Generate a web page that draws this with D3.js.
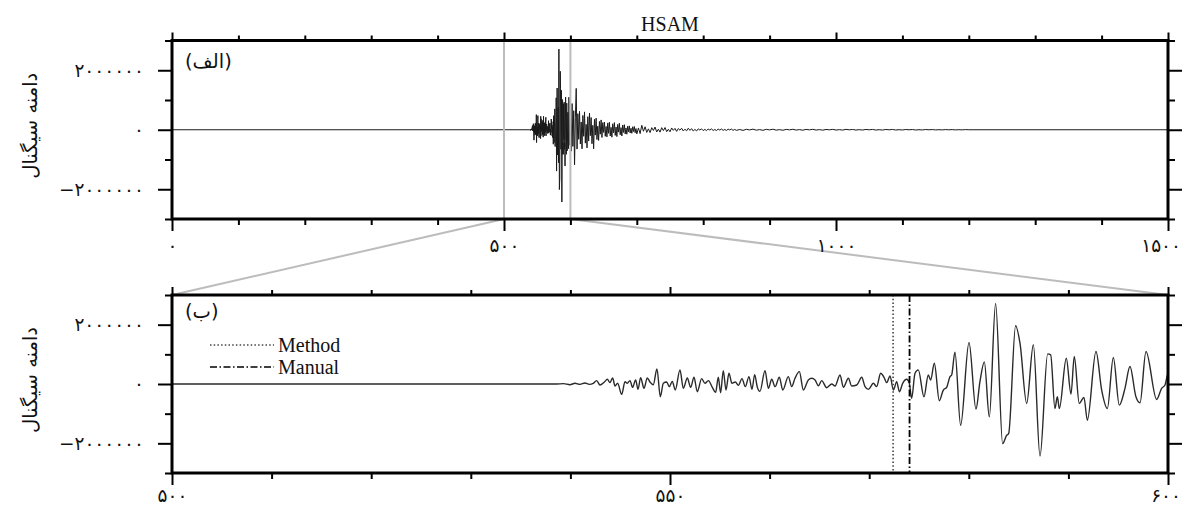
<!DOCTYPE html>
<html>
<head>
<meta charset="utf-8">
<script src="https://cdn.jsdelivr.net/npm/d3@7"></script>
<style>
  body { margin: 0; background: #fff; }
  svg { display: block; }
</style>
</head>
<body>
<svg id="chart" width="1182" height="505"></svg>
<script>
// ---- Station trace (HSAM): amplitudes in kilo-counts ----
const traceStart = 0;
const traceEnd = 1500;

// Onset and strong motion, 539–600 s (extrema of the trace)
const sigTimes = [
  539.30, 539.96, 540.46, 540.96, 541.46, 541.90, 542.30, 542.64, 542.97, 543.41,
  543.71, 543.97, 544.24, 544.48, 544.74, 545.15, 545.48, 545.71, 545.98, 546.25,
  546.55, 546.79, 547.05, 547.39, 547.72, 547.99, 548.32, 548.69, 549.03, 549.33,
  549.66, 549.93, 550.23, 550.53, 551.00, 551.34, 551.74, 552.07, 552.41, 552.74,
  553.18, 553.51, 553.85, 554.25, 554.58, 554.85, 555.08, 555.35, 555.62, 555.92,
  556.22, 556.56, 556.86, 557.23, 557.56, 557.93, 558.23, 558.50, 558.77, 559.03,
  559.54, 559.88, 560.21, 560.55, 560.98, 561.32, 561.88, 562.22, 562.55, 562.99,
  563.39, 563.89, 564.23, 564.56, 564.90, 565.23, 565.73, 566.24, 566.57, 567.07,
  567.41, 567.91, 568.24, 568.75, 569.25, 569.58, 569.92, 570.42, 570.75, 571.15,
  571.49, 571.76, 572.09, 572.43, 572.76, 573.03, 573.36, 573.77, 574.03,
  574.26, 574.60, 574.93, 575.50, 575.93, 576.17, 576.54, 577.04, 577.44, 577.78,
  578.11, 578.28, 578.61, 579.18, 580.02, 580.72, 581.12, 581.56, 582.06, 582.69,
  583.40, 583.80, 584.00, 584.70, 585.14, 585.81, 586.48, 587.15, 587.92, 588.22,
  588.65, 588.89, 589.09, 589.79, 590.26, 590.59, 591.09, 591.56, 591.90, 592.77,
  593.34, 593.91, 594.51, 595.11, 595.68, 596.18, 596.78, 597.19, 597.79, 598.86,
  599.36, 599.70, 600.00
];
const sigAmps = [
     11,   -23,    23,   -11,    34,   -11,    23,   113,   -34,    68,
    158,    45,   203,   -68,    23,  -350,    79,    23,   113,  -113,
    136,  -181,   215,  -147,   203,    68,   -23,   508,  -430,    23,
     68,   -90,    90,  -203,   475,  -147,   203,  -113,   226,  -260,
    181,    23,   113,  -113,  -283,   226,  -294,   452,  -203,   362,
     23,    68,   -45,   181,   -90,   249,  -181,   316,  -113,  -249,
    452,  -147,   158,   -90,   226,  -203,   249,   -90,   192,   418,
   -203,   136,   192,   136,   -57,   113,  -124,     0,   -68,   305,
   -113,   192,   -68,   -34,   226,   -90,  -181,    23,   -90,   362,
    226,    45,   271,  -203,    79,  -260,    23,   158,    23,
   -486,   362,   475,  -429,   305,   136,   701,  -565,  -203,  -113,
    249,   305,  1074, -1390,  1401,  -848,    79,   746, -1107,  2712,
  -2011, -1729, -1672,  1966,  1379,  -655,  1322, -2430,  1017,   983,
   -825,  -429,  -825,   870,  -339,   927,  -655,  -452, -1220,  1096,
   -203,  -825,   893,  -712,  -147,   588,  -429,  -633,  1096,  -520,
   -147,   -34,   339
];

// Coda, 601.25–698.75 s, one extremum every 1.25 s
const codaEarlyStart = 601.25, codaEarlyStep = 1.25;
const codaEarly = [
  -720,  880, -560,  640, -1180, 420, 1390, -650,  540, -320,
   620, -480,  260, -640,  480, -220,  600, -450,  180, -610,
   440, -380,  560, -200,  410, -470,  150, -640,  350, -180,
   390, -330,  120, -360,  280, -150,  330, -260,  240,  -90,
   260, -220,  110, -240,  230, -120,  250, -210,   80, -250,
   200, -100,  240, -190,   90, -230,  180,  -80,  220, -170,
    70, -210,  160,  -90,  170, -140,   60, -150,  120,  -70,
   130, -110,   50, -120,  100,  -60,  110, -100,   40
];

// Coda, 700–847.5 s, one extremum every 2.5 s
const codaMidStart = 700, codaMidStep = 2.5;
const codaMid = [
  -140,  60, -130, 150, -50, 100, -90, 30, -95, 70,
   -25,  90,  -75,  20, -80,  70, -30, 75, -65, 15,
   -70,  60,  -20,  45, -55,  40, -15, 50, -40, 18,
   -35,  50,  -20,  38, -42,  12, -40, 30, -10, 30,
   -28,  12,  -30,  26, -10,  28, -25,  8, -27, 24,
   -12,  26,  -22,  10, -25,  22,  -8, 24, -20, 10
];

// Late coda, 850–1195 s, one extremum every 5 s
const codaLateStart = 850, codaLateStep = 5;
const codaLate = [
  -20,  8, -22, 16,  -6, 20, -15,  5, -19, 14,
   -5, 18, -14,  4, -17, 13,  -4, 16, -12,  5,
  -15, 12,  -3, 15, -11,  4, -14, 10,  -3, 13,
  -11,  3, -10, 13,  -2,  9, -11,  3, -10, 11,
   -2, 11, -10,  2, -10,  9,  -2, 10,  -9,  2,
   -8,  9,  -2,  8,  -9,  2,  -7,  8,  -2,  7,
   -6,  2,  -5,  6,  -2,  5,  -5,  2,  -4,  5
];

// Zoomed window and phase picks
const zoomWindow = [500, 600];
const pickNames = ["Method", "Manual"];
const pickTimes = [572.4, 574.05];

// Axis ticks and labels
const ampDomain = [-3000000, 3000000];
const ampMajorTicks = [-2000000, 0, 2000000];
const ampMajorLabels = ["\u2212\u06F2\u06F0\u06F0\u06F0\u06F0\u06F0\u06F0", "\u06F0", "\u06F2\u06F0\u06F0\u06F0\u06F0\u06F0\u06F0"];
const ampMinorTicks = [-3000000, -1000000, 1000000, 3000000];
const fullMajorTicks = [0, 500, 1000, 1500];
const fullMajorLabels = ["\u06F0", "\u06F5\u06F0\u06F0", "\u06F1\u06F0\u06F0\u06F0", "\u06F1\u06F5\u06F0\u06F0"];
const fullMinorTicks = [100, 200, 300, 400, 600, 700, 800, 900, 1100, 1200, 1300, 1400];
const zoomMajorTicks = [500, 550, 600];
const zoomMajorLabels = ["\u06F5\u06F0\u06F0", "\u06F5\u06F5\u06F0", "\u06F6\u06F0\u06F0"];
const zoomMinorTicks = [510, 520, 530, 540, 560, 570, 580, 590];

const titleText = "HSAM";
const yTitle = "دامنه سیگنال";
const panelLabels = ["(الف)", "(ب)"];

// ---- Layout ----
const W = 1182;
const L = 172, R = 1168;
const P1 = { top: 40.5, bottom: 219, labelBase: 33 };
const P2 = { top: 295, bottom: 473, labelBase: 29 };
const faFont = "'DejaVu Sans', sans-serif";
const serifFont = "'Liberation Serif', 'Times New Roman', serif";

const svg = d3.select("#chart");

// Assemble the trace as [time, counts]
const trace = [[traceStart, 0], [538.6, 0]];
sigTimes.forEach((t, i) => trace.push([t, sigAmps[i] * 1000]));
codaEarly.forEach((v, i) => trace.push([codaEarlyStart + i * codaEarlyStep, v * 1000]));
codaMid.forEach((v, i) => trace.push([codaMidStart + i * codaMidStep, v * 1000]));
codaLate.forEach((v, i) => trace.push([codaLateStart + i * codaLateStep, v * 1000]));
trace.push([1200, 0], [traceEnd, 0]);

const x1 = d3.scaleLinear().domain([traceStart, traceEnd]).range([L, R]);
const y1 = d3.scaleLinear().domain(ampDomain).range([P1.bottom, P1.top]);
const x2 = d3.scaleLinear().domain(zoomWindow).range([L, R]);
const y2 = d3.scaleLinear().domain(ampDomain).range([P2.bottom, P2.top]);

const defs = svg.append("defs");
defs.append("clipPath").attr("id", "clip2")
  .append("rect").attr("x", L).attr("y", P2.top).attr("width", R - L).attr("height", P2.bottom - P2.top);

// Zoom connector lines between the panels
const gray = "#bcbcbc";
svg.append("line").attr("x1", x1(zoomWindow[0])).attr("y1", P1.bottom).attr("x2", L).attr("y2", P2.top)
  .attr("stroke", gray).attr("stroke-width", 2);
svg.append("line").attr("x1", x1(zoomWindow[1])).attr("y1", P1.bottom).attr("x2", R).attr("y2", P2.top)
  .attr("stroke", gray).attr("stroke-width", 2);

// Top panel trace
svg.append("path").datum(trace)
  .attr("d", d3.line().x(d => x1(d[0])).y(d => y1(d[1])))
  .attr("fill", "none").attr("stroke", "#1a1a1a").attr("stroke-width", 1);

// Window markers in top panel
zoomWindow.forEach(t => {
  svg.append("line").attr("x1", x1(t)).attr("x2", x1(t)).attr("y1", P1.top).attr("y2", P1.bottom)
    .attr("stroke", gray).attr("stroke-width", 2);
});

// Bottom panel trace
svg.append("g").attr("clip-path", "url(#clip2)")
  .append("path").datum(trace)
  .attr("d", d3.line().x(d => x2(d[0])).y(d => y2(d[1])).curve(d3.curveMonotoneX))
  .attr("fill", "none").attr("stroke", "#2a2a2a").attr("stroke-width", 1.4);

// Phase picks
const pickStyles = [
  { color: "#444", width: 1.6, dash: "1.5,2.2" },
  { color: "#000", width: 1.8, dash: "7,2.5,1.5,2.5" }
];
pickTimes.forEach((t, i) => {
  svg.append("line").attr("x1", x2(t)).attr("x2", x2(t)).attr("y1", P2.top).attr("y2", P2.bottom)
    .attr("stroke", pickStyles[i].color).attr("stroke-width", pickStyles[i].width)
    .attr("stroke-dasharray", pickStyles[i].dash);
});

// Legend
pickNames.forEach((name, i) => {
  const ly = 345 + i * 22;
  svg.append("line").attr("x1", 210).attr("x2", 274).attr("y1", ly).attr("y2", ly)
    .attr("stroke", pickStyles[i].color).attr("stroke-width", 1.3)
    .attr("stroke-dasharray", pickStyles[i].dash);
  svg.append("text").attr("x", 278).attr("y", ly + 6.5)
    .attr("font-family", serifFont).attr("font-size", 20).attr("fill", "#111")
    .text(name);
});

// Axes
function styleAxis(g) {
  g.select(".domain").remove();
  g.selectAll(".tick line").attr("stroke", "#000").attr("stroke-width", 2);
  g.selectAll(".tick text").attr("font-family", faFont).attr("font-size", 18.5).attr("fill", "#111");
}

// Keep the last bottom label inside the page
function fitLastLabel(texts) {
  texts.each(function () {
    const box = this.getBBox();
    const tickX = this.parentNode.transform.baseVal.consolidate().matrix.e;
    const overflow = tickX + box.x + box.width - (W - 1);
    if (overflow > 0) d3.select(this).attr("x", -overflow);
  });
}

function drawAxes(x, y, P, majorX, majorXLabels, minorX) {
  // bottom
  svg.append("g").attr("transform", `translate(0,${P.bottom})`)
    .call(d3.axisBottom(x).tickValues(minorX).tickSize(6).tickFormat("")).call(styleAxis);
  svg.append("g").attr("transform", `translate(0,${P.bottom})`)
    .call(d3.axisBottom(x).tickValues(majorX).tickSize(12)
      .tickFormat((d, i) => majorXLabels[i])).call(styleAxis)
    .selectAll(".tick text").attr("y", P.labelBase).attr("dy", 0).call(fitLastLabel);
  // top
  svg.append("g").attr("transform", `translate(0,${P.top})`)
    .call(d3.axisTop(x).tickValues(minorX).tickSize(5).tickFormat("")).call(styleAxis);
  svg.append("g").attr("transform", `translate(0,${P.top})`)
    .call(d3.axisTop(x).tickValues(majorX).tickSize(8).tickFormat("")).call(styleAxis);
  // left
  svg.append("g").attr("transform", `translate(${L},0)`)
    .call(d3.axisLeft(y).tickValues(ampMinorTicks).tickSize(7).tickFormat("")).call(styleAxis);
  svg.append("g").attr("transform", `translate(${L},0)`)
    .call(d3.axisLeft(y).tickValues(ampMajorTicks).tickSize(14).tickPadding(14)
      .tickFormat((d, i) => ampMajorLabels[i])).call(styleAxis)
    .selectAll(".tick text").attr("direction", "ltr");
  // right
  svg.append("g").attr("transform", `translate(${R},0)`)
    .call(d3.axisRight(y).tickValues(ampMinorTicks).tickSize(7).tickFormat("")).call(styleAxis);
  svg.append("g").attr("transform", `translate(${R},0)`)
    .call(d3.axisRight(y).tickValues(ampMajorTicks).tickSize(14).tickFormat("")).call(styleAxis);
  // frame
  svg.append("rect").attr("x", L).attr("y", P.top).attr("width", R - L).attr("height", P.bottom - P.top)
    .attr("fill", "none").attr("stroke", "#000").attr("stroke-width", 3);
}

drawAxes(x1, y1, P1, fullMajorTicks, fullMajorLabels, fullMinorTicks);
drawAxes(x2, y2, P2, zoomMajorTicks, zoomMajorLabels, zoomMinorTicks);

// Titles and panel labels
svg.append("text").attr("x", (L + R) / 2).attr("y", 31).attr("text-anchor", "middle")
  .attr("font-family", serifFont).attr("font-size", 20).attr("fill", "#111").text(titleText);

[P1, P2].forEach((P, i) => {
  const cy = (P.top + P.bottom) / 2 - 4;
  svg.append("text").attr("transform", `translate(37,${cy}) rotate(-90)`)
    .attr("text-anchor", "middle").attr("font-family", faFont).attr("font-size", 19.5)
    .attr("fill", "#111").text(yTitle);
  svg.append("text").attr("x", 185).attr("y", P.top + (i === 0 ? 27 : 23))
    .attr("font-family", faFont).attr("font-size", 19.5).attr("fill", "#111")
    .text(panelLabels[i]);
});
</script>
</body>
</html>
